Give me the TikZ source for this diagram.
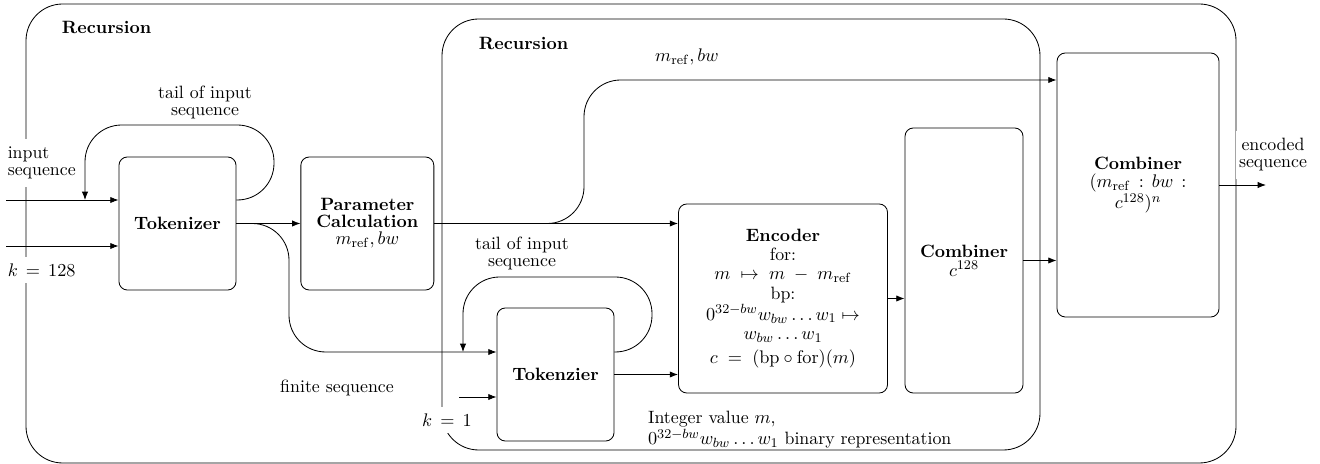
\documentclass[tikz,border=0pt]{standalone}
\usepackage{amsmath}
\usetikzlibrary{positioning, arrows.meta}
\DeclareMathSizes{10.7}{10.7}{8.4}{6.4}

\begin{document}
\begin{tikzpicture}[
			x=0.6pt, y=-0.6pt,
			line width=0.5pt,
			font=\fontsize{10.7}{10.2}\selectfont,
			frame/.style={draw, rounded corners=22pt},
			block/.style={draw, rounded corners=5pt, align=center, inner sep=2pt},
			tag/.style={align=center, inner sep=1pt},
			cover/.style={align=center, fill=white, inner xsep=2pt, inner ysep=4.5pt},
			flow/.style={-{Latex[length=5pt, width=3.8pt]}},
			loop/.style={flow, rounded corners=22pt},
		]
		\useasboundingbox (0,0) rectangle (1320,464);

		% recursion frames
		\draw[frame] (26,4) rectangle (1236,463);
		\draw[frame] (442,19) rectangle (1040,450);
		\node[anchor=west] (recA) at (56,27) {\textbf{Recursion}};
		\node[anchor=west] (recB) at (473,43) {\textbf{Recursion}};

		\node[block, minimum width=70.2pt, minimum height=79.8pt] (tok) at (177.5,223.5) {\textbf{Tokenizer}};
		\node[block, minimum width=79.8pt, minimum height=79.8pt] (par) [right=38.4pt of tok] {\textbf{Parameter}\\\textbf{Calculation}\\$m_{\mathrm{ref}}, bw$};
		\node[block, minimum width=70.2pt, minimum height=79.8pt] (tkz) at (555.5,374.5) {\textbf{Tokenzier}};
		\node[block, minimum width=125.4pt, minimum height=113.4pt, font=\fontsize{10.7}{11.6}\selectfont] (enc) at (783,298.5) {\textbf{Encoder}\\for:\\$m \;\mapsto\; m \;-\; m_{\mathrm{ref}}$\\bp:\\$0^{32-bw}w_{bw}\dots w_1 \mapsto$\\$w_{bw}\dots w_1$\\[3pt]$c \;=\; (\mathrm{bp} \circ \mathrm{for})(m)$};
		\node[block, minimum width=70.8pt, minimum height=159pt, font=\fontsize{10.7}{11.4}\selectfont] (cmbA) at (964,260.5) {\textbf{Combiner}\\$c^{128}$};
		\node[block, minimum width=97.2pt, minimum height=158.4pt, font=\fontsize{10.7}{10.8}\selectfont] (cmbB) at (1138,185) {\textbf{Combiner}\\$(m_{\mathrm{ref}} \,:\, bw \,:$\\$c^{128})^n$};

		\coordinate (in1) at (6,200);
		\coordinate (in2) at (6,246);
		\coordinate (tailA) at (85,200);
		\coordinate (tailB) at (463,352);
		\coordinate (fin) at (459,397);
		\coordinate (side) at (1057,80);
		\coordinate (out) at (1266,185);

		\draw[flow] (in1) -- (in1 -| tok.west);
		\draw[flow] (in2) -- (in2 -| tok.west);
		\draw[loop] (tok.east |- in1) -- (274,200) -- (274,125) -- (85,125) -- (tailA);
		\draw[flow] (tok) -- (par);
		\draw[loop] (tok.east) -- (289,223.5) -- (289,352) -- (tailB -| tkz.west);
		\draw[loop] (tkz.east |- tailB) -- (652,352) -- (652,277) -- (463,277) -- (tailB);
		\draw[flow] (fin) -- (fin -| tkz.west);
		\draw[flow] (par.east) -- (par.east -| enc.west);
		\draw[loop] (par.east) -- (584,223.5) -- (584,80) -- (side -| cmbB.west);
		\draw[flow] (tkz.east) -- (tkz.east -| enc.west);
		\draw[flow] (enc.east) -- (enc.east -| cmbA.west);
		\draw[flow] (cmbA.east) -- (cmbA.east -| cmbB.west);
		\draw[flow] (cmbB.east) -- (out);

		% labels
		\node[tag] (tailAtxt) at (205,102) {tail of input\\sequence};
		\node[tag] (mreftxt) at (687,57) {$m_{\mathrm{ref}}, bw$};
		\node[tag] (tailBtxt) at (522,253) {tail of input\\sequence};
		\node[tag] (fintxt) at (337,388) {finite sequence};
		\node[tag, anchor=west, align=left] (bintxt) at (646,430) {Integer value $m$,\\$0^{32-bw}w_{bw}\dots w_1$ binary representation};
		\node[cover, anchor=west, align=left] (intxt) at (4,163) {input\\sequence};
		\node[cover, anchor=west, inner ysep=4pt] (ktxt) at (4,270) {$k \,=\, 128$};
		\node[cover, inner ysep=4pt] (kone) at (447,420) {$k \,=\, 1$};
		\node[cover] (outtxt) at (1273,155) {encoded\\sequence};
\end{tikzpicture}
\end{document}
